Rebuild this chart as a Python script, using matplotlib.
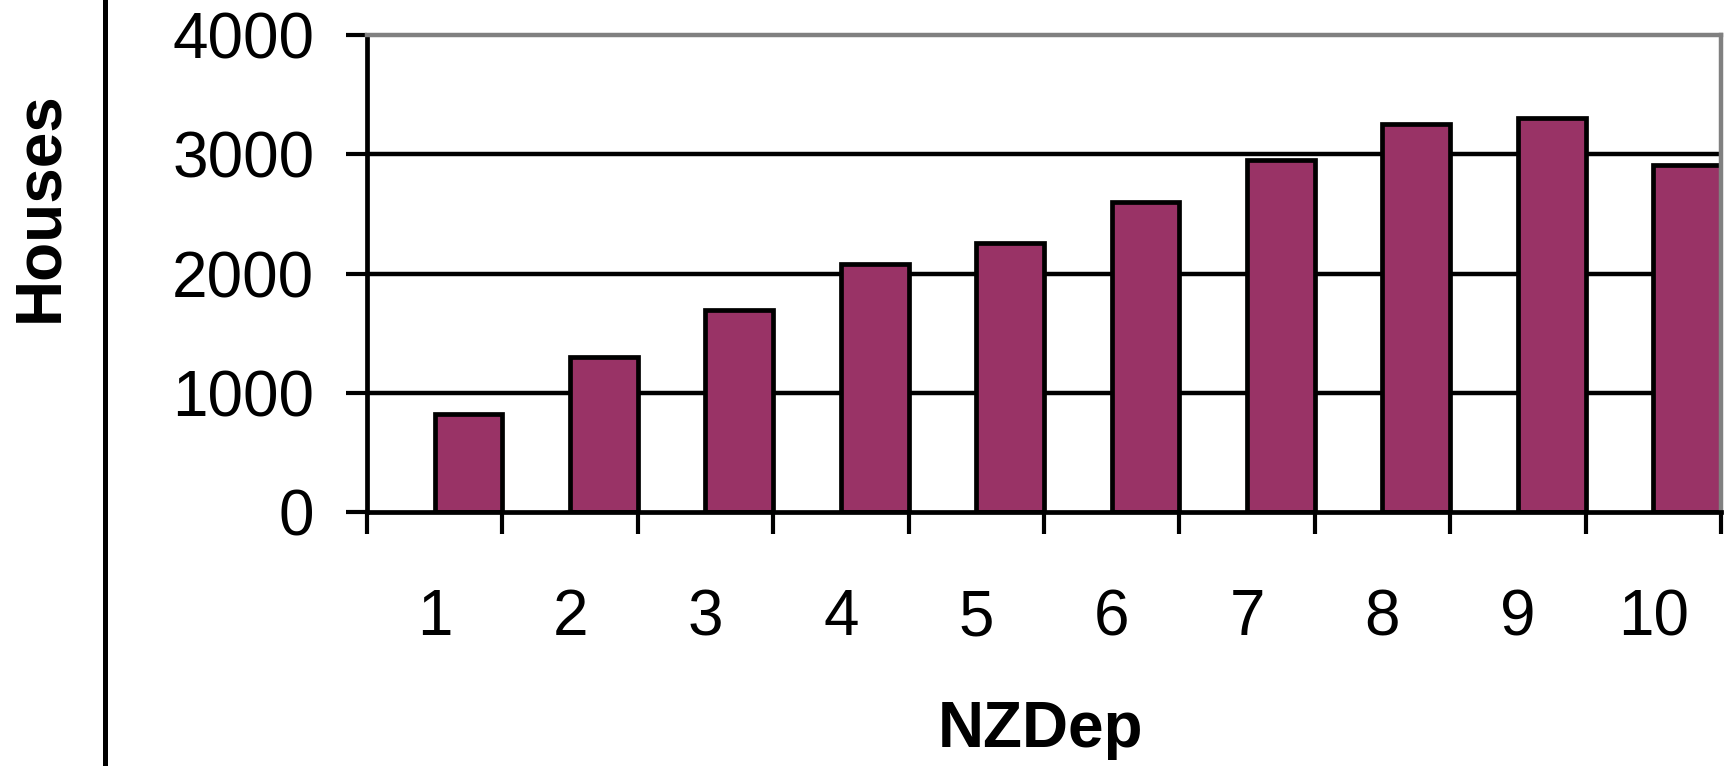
import matplotlib
matplotlib.use("Agg")
import matplotlib.pyplot as plt
from matplotlib.lines import Line2D
import numpy as np

# ---- data ----
categories = ["1", "2", "3", "4", "5", "6", "7", "8", "9", "10"]
houses = [820, 1300, 1690, 2080, 2255, 2605, 2950, 3260, 3305, 2910]
yticks = [0, 1000, 2000, 3000, 4000]
x_title = "NZDep"
y_title = "Houses"

plt.rcParams['font.family'] = ['Liberation Sans', 'DejaVu Sans']

W, H = 1733, 766
fig = plt.figure(figsize=(W / 100, H / 100), dpi=100)
fig.patch.set_facecolor("white")

left_px, right_px, top_px, bot_px = 367, 1721, 35.4, 511.7
ax = fig.add_axes([left_px / W, 1 - bot_px / H, (right_px - left_px) / W, (bot_px - top_px) / H])

n = len(categories)
idx = np.arange(n)
bar_color = "#993366"
ax.bar(idx + 0.5, houses, width=0.5, align="edge", color=bar_color,
       edgecolor="black", linewidth=3.4, zorder=2)

# gridlines (inner only)
ax.hlines(yticks[1:-1], 0, n, colors="black", linewidth=3.2, zorder=1)

ax.set_xlim(0, n)
ax.set_ylim(yticks[0], yticks[-1])

# spines
ax.spines["left"].set_color("black")
ax.spines["left"].set_linewidth(3.4)
ax.spines["bottom"].set_color("black")
ax.spines["bottom"].set_linewidth(3.4)
ax.spines["top"].set_color("#808080")
ax.spines["top"].set_linewidth(3.2)
ax.spines["right"].set_color("#808080")
ax.spines["right"].set_linewidth(3.2)
for s in ax.spines.values():
    s.set_zorder(3)

# y ticks
ax.set_yticks(yticks)
ax.set_yticklabels([str(v) for v in yticks])
ax.tick_params(axis="y", which="major", direction="out", length=15, width=3.0,
               color="black", pad=23, labelsize=46)

# x ticks: boundaries as major ticks, labels centred as minor ticks
ax.set_xticks(np.arange(n + 1))
ax.set_xticklabels([])
ax.set_xticks(idx + 0.5, minor=True)
ax.set_xticklabels(categories, minor=True)
ax.tick_params(axis="x", which="major", direction="out", length=16, width=3.0, color="black")
ax.tick_params(axis="x", which="minor", length=0, pad=55, labelsize=46)

# axis titles
fig.text(1040 / W, 1 - 730 / H, x_title, fontsize=46, fontweight="bold",
         ha="center", va="center")
fig.text(40 / W, 1 - 207 / H, y_title, fontsize=46, fontweight="bold",
         rotation=90, ha="center", va="center")

# outer vertical frame line
fig.add_artist(Line2D([105.5 / W, 105.5 / W], [0, 1], transform=fig.transFigure,
                      color="black", linewidth=3.6))

fig.savefig("out.png", dpi=100, facecolor="white")
